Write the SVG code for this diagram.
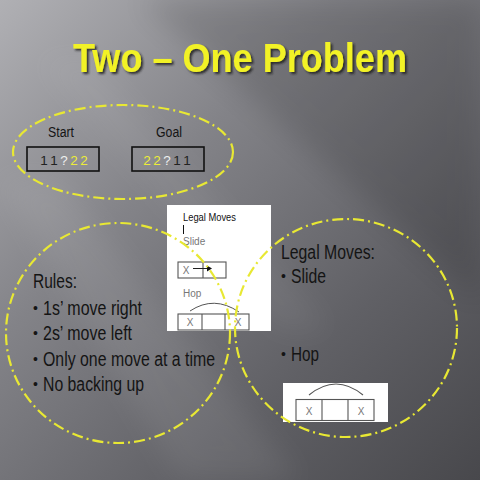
<svg xmlns="http://www.w3.org/2000/svg" width="480" height="480" viewBox="0 0 480 480">
  <defs>
    <linearGradient id="bg" x1="0" y1="0" x2="1" y2="1">
      <stop offset="0" stop-color="#b0b0b4"/>
      <stop offset="0.35" stop-color="#838388"/>
      <stop offset="0.7" stop-color="#606065"/>
      <stop offset="1" stop-color="#48484c"/>
    </linearGradient>
    <filter id="soft" x="-20%" y="-20%" width="140%" height="140%">
      <feGaussianBlur stdDeviation="14"/>
    </filter>
    <filter id="shadow" x="-10%" y="-30%" width="120%" height="160%">
      <feDropShadow dx="2" dy="2" stdDeviation="1.2" flood-color="#222" flood-opacity="0.85"/>
    </filter>
    <style>
      .loop { fill: none; stroke: #e8e833; stroke-width: 2.2; stroke-dasharray: 11 4 2 4; }
      .lbl { font-family: "Liberation Sans", Arial, sans-serif; fill: #141414; }
      .big { font-size: 20px; }
      .bul { font-family: "Liberation Sans", Arial, sans-serif; fill: #141414; font-size: 14px; }
      .small { font-family: "Liberation Sans", Arial, sans-serif; font-size: 10px; fill: #777; }
      .cell { fill: none; stroke: #555; stroke-width: 1.1; }
      .dig { font-family: "Liberation Sans", Arial, sans-serif; font-size: 13.5px; text-anchor: middle; }
      .one { fill: #222; }
      .q { fill: #eeeeee; }
      .two { fill: #ecec38; }
      .card { fill: #ffffff; }
    </style>
  </defs>

  <!-- background -->
  <rect x="0" y="0" width="480" height="480" fill="url(#bg)"/>
  <polygon points="140,0 480,0 480,300" fill="#000" opacity="0.12" filter="url(#soft)"/>
  <polygon points="0,180 60,180 300,480 180,480" fill="#fff" opacity="0.07" filter="url(#soft)"/>
  <polygon points="40,60 90,60 330,330 280,330" fill="#fff" opacity="0.05" filter="url(#soft)"/>

  <!-- title -->
  <g id="title">
    <text x="240" y="72" text-anchor="middle" font-family="'Liberation Sans', Arial, sans-serif" font-weight="bold" font-size="40" fill="#f2f226" textLength="334" lengthAdjust="spacingAndGlyphs" filter="url(#shadow)">Two – One Problem</text>
  </g>

  <!-- start / goal -->
  <g id="start">
    <text class="lbl" x="61" y="137" font-size="14" text-anchor="middle" textLength="26" lengthAdjust="spacingAndGlyphs">Start</text>
    <rect x="27" y="147" width="72" height="24" fill="none" stroke="#111" stroke-width="1.6"/>
    <text class="dig" y="165"><tspan class="one" x="44">1</tspan><tspan class="one" x="54">1</tspan><tspan class="q" x="64">?</tspan><tspan class="two" x="74">2</tspan><tspan class="two" x="84">2</tspan></text>
  </g>
  <g id="goal">
    <text class="lbl" x="169" y="137" font-size="14" text-anchor="middle" textLength="26" lengthAdjust="spacingAndGlyphs">Goal</text>
    <rect x="132" y="147" width="72" height="24" fill="none" stroke="#111" stroke-width="1.6"/>
    <text class="dig" y="165"><tspan class="two" x="147">2</tspan><tspan class="two" x="157">2</tspan><tspan class="q" x="167">?</tspan><tspan class="one" x="177">1</tspan><tspan class="one" x="187">1</tspan></text>
  </g>

  <!-- rules -->
  <g id="rules">
    <text class="lbl big" x="33" y="288" textLength="44" lengthAdjust="spacingAndGlyphs">Rules:</text>
    <text class="bul" x="33" y="313">•</text>
    <text class="lbl big" x="43" y="315" textLength="99" lengthAdjust="spacingAndGlyphs">1s’ move right</text>
    <text class="bul" x="33" y="338">•</text>
    <text class="lbl big" x="43" y="340" textLength="89" lengthAdjust="spacingAndGlyphs">2s’ move left</text>
    <text class="bul" x="33" y="364">•</text>
    <text class="lbl big" x="43" y="366" textLength="172" lengthAdjust="spacingAndGlyphs">Only one move at a time</text>
    <text class="bul" x="33" y="389">•</text>
    <text class="lbl big" x="43" y="391" textLength="101" lengthAdjust="spacingAndGlyphs">No backing up</text>
  </g>

  <!-- legal moves card (middle) -->
  <g id="legal-card">
    <rect class="card" x="167" y="205" width="104" height="126"/>
    <text x="183" y="221" font-family="'Liberation Sans', Arial, sans-serif" font-size="11" fill="#111" textLength="53" lengthAdjust="spacingAndGlyphs">Legal Moves</text>
    <line x1="183.5" y1="225" x2="183.5" y2="234" stroke="#111" stroke-width="1"/>
    <text class="small" x="183" y="245" fill="#888">Slide</text>
    <rect class="cell" x="178" y="262" width="48" height="16"/>
    <line class="cell" x1="203" y1="262" x2="203" y2="278"/>
    <text class="small" x="186" y="274" text-anchor="middle">X</text>
    <line x1="193" y1="268.5" x2="208" y2="268.5" stroke="#222" stroke-width="1"/>
    <polygon points="207,265.5 212,268.5 207,271.5" fill="#111"/>
    <text class="small" x="183" y="297">Hop</text>
    <path d="M190,311 Q214,295 239,312" fill="none" stroke="#555" stroke-width="1"/>
    <rect class="cell" x="178" y="314" width="71" height="16"/>
    <line class="cell" x1="202" y1="314" x2="202" y2="330"/>
    <line class="cell" x1="225" y1="314" x2="225" y2="330"/>
    <text class="small" x="190" y="326" text-anchor="middle">X</text>
    <text class="small" x="238" y="326" text-anchor="middle">X</text>
  </g>

  <!-- legal moves (right) -->
  <g id="legal-moves">
    <text class="lbl big" x="281" y="259" textLength="94" lengthAdjust="spacingAndGlyphs">Legal Moves:</text>
    <text class="bul" x="281" y="281">•</text>
    <text class="lbl big" x="291" y="283" textLength="35" lengthAdjust="spacingAndGlyphs">Slide</text>
    <text class="bul" x="281" y="359">•</text>
    <text class="lbl big" x="291" y="361" textLength="28" lengthAdjust="spacingAndGlyphs">Hop</text>
  </g>

  <!-- hop card (bottom right) -->
  <g id="hop-card">
    <rect class="card" x="283" y="383" width="105" height="39"/>
    <path d="M309,395 Q336,373 363,395" fill="none" stroke="#555" stroke-width="1.1"/>
    <rect class="cell" x="296" y="399.5" width="78" height="21"/>
    <line class="cell" x1="322" y1="399.5" x2="322" y2="420.5"/>
    <line class="cell" x1="348" y1="399.5" x2="348" y2="420.5"/>
    <text class="small" x="309" y="415" text-anchor="middle" font-size="12">X</text>
    <text class="small" x="361" y="415" text-anchor="middle" font-size="12">X</text>
  </g>

  <!-- dash-dot outlines -->
  <g id="connectors">
    <ellipse class="loop" cx="123" cy="152" rx="110" ry="47"/>
    <ellipse class="loop" cx="118" cy="333" rx="112" ry="110"/>
    <ellipse class="loop" cx="346" cy="328" rx="111" ry="109"/>
  </g>
</svg>
